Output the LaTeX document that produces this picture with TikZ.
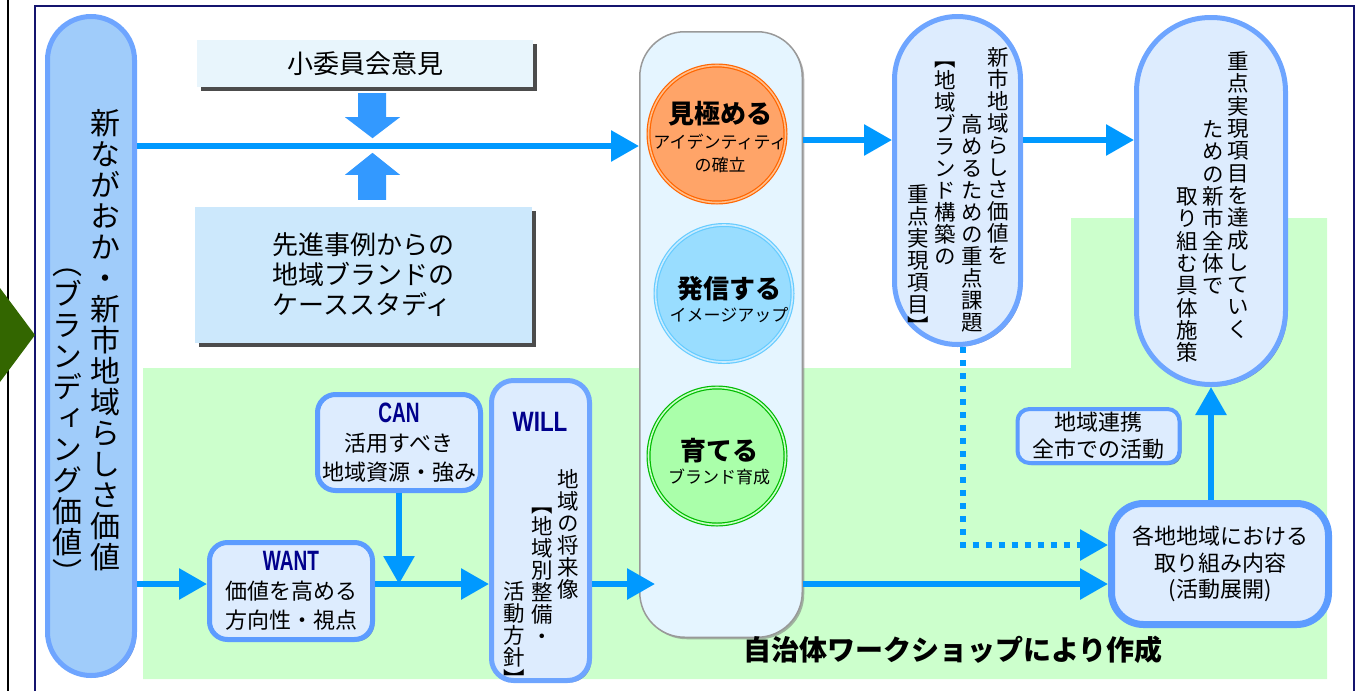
\documentclass[tikz,border=0pt]{standalone}
\usepackage{graphicx}
\usepackage{fontspec}
\setmainfont{Noto Sans CJK JP}
\newfontfamily\tatefont[RawFeature=+vert]{Noto Sans CJK JP}
\newfontfamily\latinfont{Liberation Sans}
\usetikzlibrary{arrows.meta,calc,positioning,shadows}

\definecolor{framenavy}{RGB}{20,20,110}
\definecolor{linkblue}{RGB}{0,153,255}
\definecolor{blockblue}{RGB}{51,153,255}
\definecolor{areagreen}{RGB}{204,255,204}
\definecolor{pillfill}{RGB}{160,204,250}
\definecolor{pillline}{RGB}{110,165,255}
\definecolor{boxfill}{RGB}{221,236,254}
\definecolor{boxline}{RGB}{92,156,255}
\definecolor{shadowblue}{RGB}{40,70,150}
\definecolor{corefill}{RGB}{229,245,255}
\definecolor{notefill}{RGB}{232,245,252}
\definecolor{casefill}{RGB}{204,232,252}
\definecolor{keyword}{RGB}{0,0,140}
\definecolor{arrowgreen}{RGB}{51,102,0}

\newcommand{\lnw}{6pt}
\newcommand{\keyword}[2][0.68]{{\latinfont\bfseries\fontsize{28}{28}\selectfont\color{keyword}\scalebox{#1}[1]{#2}}}

\makeatletter
\newcommand{\tate}[2][22pt]{\vbox{\tatefont\baselineskip=#1\relax
    \lineskiplimit=-\maxdimen\tate@#2\@nil}}
\def\tate@#1{\ifx#1\@nil\else\hbox to 1em{\hss\rule{0pt}{.88em}#1\hss}\expandafter\tate@\fi}
\makeatother

\tikzset{
    conn/.style = {draw=linkblue, line width=\lnw, -{Triangle[length=28pt,width=30pt]}},
    pblock/.style = {
        draw=pillline, fill=boxfill, rectangle, line width=5pt,
        inner sep=0, rounded corners=#1,
        drop shadow={shadow xshift=2pt, shadow yshift=-2pt, fill=shadowblue, opacity=0.6}
    },
    pblock/.default=40pt,
    rblock/.style = {
        draw=boxline, fill=boxfill, rectangle, line width=5pt, align=center,
        inner sep=0, rounded corners=#1,
        font=\fontsize{22}{29}\selectfont,
        drop shadow={shadow xshift=2pt, shadow yshift=-2pt, fill=shadowblue, opacity=0.6}
    },
    rblock/.default=18pt,
    nblock/.style = {
        rectangle, inner sep=0, align=left,
        font=\fontsize{26}{30}\selectfont,
        drop shadow={shadow xshift=4pt, shadow yshift=-4pt, fill=black!70, opacity=1}
    },
    cblock/.style = {
        draw=black!40, fill=corefill, rectangle, line width=1.5pt,
        inner sep=0, rounded corners=45pt,
        drop shadow={shadow xshift=2pt, shadow yshift=-2pt, fill=black!50, opacity=0.6}
    },
    phase/.style = {
        circle, inner sep=0, minimum size=137pt, line width=1.2pt, double distance=1.6pt
    },
    phasetext/.style = {inner sep=0, align=center, font=\fontsize{17}{23}\selectfont},
    tateblock/.style = {inner sep=0, anchor=north, font=\fontsize{21.5}{22}\selectfont}
}

\begin{document}
\begin{tikzpicture}[x=1pt,y=-1pt]
\useasboundingbox (0,0) rectangle (1368,691);

% frame and green area
\draw[line width=2pt] (8,0) -- (8,691);
\draw[framenavy, line width=2.5pt] (35,691) -- (35,6) -- (1354,6) -- (1354,691);
\fill[areagreen] (143,368) -- (1071,368) -- (1071,218) -- (1327,218) -- (1327,679) -- (143,679) -- cycle;
\fill[arrowgreen] (0,288) -- (35,335) -- (0,382) -- cycle;

% left pill
\node[pblock=43.5pt, fill=pillfill, minimum width=87pt, minimum height=659pt](Brand) at (91,346) {};
\node[tateblock, font=\fontsize{30}{31}\selectfont](BrandA) at (105,108) {\tate[31pt]{新ながおか・新市地域らしさ価値}};
\node[tateblock, font=\fontsize{30}{31}\selectfont](BrandB) at (67,248) {\tate[31pt]{（ブランディング価値）}};

% inputs
\node[nblock, fill=notefill, minimum width=336pt, minimum height=47pt](Opinion) at (365,63.5) {小委員会意見};
\node[nblock, fill=casefill, minimum width=337pt, minimum height=136pt](Case) at (363.5,275) {先進事例からの\\地域ブランドの\\ケーススタディ};
\fill[blockblue] ($(Opinion.south)+(-7,6)$) -- ++(28,0) -- ++(0,24) -- ++(14,0)
    -- ++(-27.5,21) -- ++(-27.5,-21) -- ++(13,0) -- cycle;
\fill[blockblue] ($(Case.north)+(-5.5,-7)$) -- ++(28,0) -- ++(0,-25) -- ++(14,0)
    -- ++(-27.5,-22) -- ++(-27.5,22) -- ++(13,0) -- cycle;

% want / can / will
\node[rblock, minimum width=163pt, minimum height=96pt](Can) at (399,442.5) {\keyword{CAN}\\活用すべき\\地域資源・強み};
\node[rblock, minimum width=163pt, minimum height=97pt](Want) at (291,591) {\keyword{WANT}\\価値を高める\\方向性・視点};
\node[pblock=22pt, minimum width=98pt, minimum height=300pt](Will) at (540.5,530.5) {};
\node[inner sep=0](WillLabel) at (540,422) {\keyword[0.8]{WILL}};
\node[tateblock](WillA) at (568,468.5) {\tate{地域の将来像}};
\node[tateblock](WillB) at (542,493.5) {\tate{【地域別整備・}};
\node[tateblock](WillC) at (514,580.5) {\tate{活動方針】}};

% core
\node[cblock, minimum width=162.5pt, minimum height=605.5pt](Core) at (721,334.5) {};
\node[phase, draw={rgb,255:red,255;green,102;blue,0}, double={rgb,255:red,255;green,190;blue,140},
      fill={rgb,255:red,255;green,164;blue,104}](Discern) at (717,134) {};
\node[phase, draw={rgb,255:red,102;green,204;blue,255}, double={rgb,255:red,200;green,235;blue,255},
      fill={rgb,255:red,153;green,221;blue,255}](Signal) at (724,293.5) {};
\node[phase, draw={rgb,255:red,0;green,187;blue,0}, double={rgb,255:red,200;green,255;blue,200},
      fill={rgb,255:red,170;green,255;blue,170}](Grow) at (717,456) {};
\node[phasetext](DiscernText) at (720,137) {{\bfseries\fontsize{26}{26}\selectfont 見極める}\\[2.5pt]アイデンティティ\\の確立};
\node[phasetext](SignalText) at (729,300) {{\bfseries\fontsize{26}{26}\selectfont 発信する}\\イメージアップ};
\node[phasetext](GrowText) at (719,462) {{\bfseries\fontsize{26}{26}\selectfont 育てる}\\ブランド育成};

% tasks and measures
\node[pblock=63pt, minimum width=126pt, minimum height=328pt](Tasks) at (957.5,180.5) {};
\node[tateblock](TasksA) at (998,46.5) {\tate{新市地域らしさ価値を}};
\node[tateblock](TasksB) at (972,113.5) {\tate{高めるための重点課題}};
\node[tateblock](TasksC) at (945,47) {\tate{【地域ブランド構築の}};
\node[tateblock](TasksD) at (918,183.5) {\tate{重点実現項目】}};

\node[pblock=74pt, minimum width=149pt, minimum height=367pt](Measures) at (1211,201) {};
\node[tateblock](MeasuresA) at (1238,50.5) {\tate[22.3pt]{重点実現項目を達成していく}};
\node[tateblock](MeasuresB) at (1213,118.5) {\tate[22.3pt]{ための新市全体で}};
\node[tateblock](MeasuresC) at (1187,185.5) {\tate[22.3pt]{取り組む具体施策}};

\node[rblock=12pt, line width=4pt, minimum width=162pt, minimum height=54pt, font=\fontsize{22}{27}\selectfont](Link) at (1098.5,436) {地域連携\\全市での活動};
\node[rblock=32pt, line width=7pt, minimum width=217pt, minimum height=121pt, font=\fontsize{22}{26.5}\selectfont](Local) at (1220,564) {各地地域における\\取り組み内容\\(活動展開)};

\node[font=\bfseries\fontsize{28}{28}\selectfont](Credit) at (953,650) {自治体ワークショップにより作成};

% connectors
\coordinate (upper) at (0,146);
\coordinate (top)   at (0,140);
\coordinate (lower) at (0,584);

\draw[conn] (Brand.east |- upper) -- (Core.west |- upper);
\draw[conn] (Core.east |- top) -- (Tasks.west |- top);
\draw[conn] (Tasks.east |- top) -- (Measures.west |- top);
\draw[conn] (Brand.east |- lower) -- (Want.west |- lower);
\draw[conn] (Want.east |- lower) -- (Will.west |- lower);
\draw[conn] (Can.south) -- (Can.south |- lower);
\draw[conn] (Will.east |- lower) -- ($(Core.west |- lower)+(16,0)$);
\draw[conn] (Core.east |- lower) -- (Local.west |- lower);
\draw[conn] (Local.north -| Measures.south) -- (Measures.south);
\draw[conn, dash pattern=on 6pt off 7pt] ($(Tasks.south)+(5,0)$) |- ($(Local.west)+(0,-19)$);

\end{tikzpicture}
\end{document}
